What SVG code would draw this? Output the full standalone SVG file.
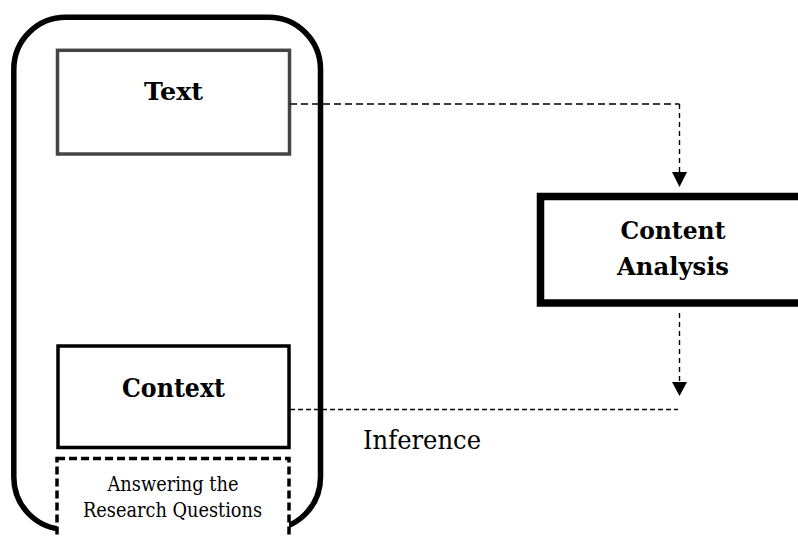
<svg xmlns="http://www.w3.org/2000/svg" width="798" height="538" viewBox="0 0 798 538">
  <style>
    .lbl { font-family: "DejaVu Serif", "Liberation Serif", serif; fill: #000; text-anchor: middle; }
    .bold { font-weight: bold; }
    .flow { fill: none; stroke: #000; stroke-width: 1.4; }
    .head { fill: #000; stroke: none; }
  </style>
  <rect width="798" height="538" fill="#fff"/>

  <!-- rounded frame holding text, context and answers -->
  <g id="frame">
    <rect x="13.8" y="17.3" width="306.7" height="512" rx="52" ry="52" fill="none" stroke="#000" stroke-width="5.5"/>
  </g>

  <g id="text-node">
    <rect x="57.5" y="50.3" width="232" height="103.7" fill="#fff" stroke="#444" stroke-width="3.5"/>
    <text class="lbl bold" x="173.5" y="100" font-size="25" textLength="59" lengthAdjust="spacingAndGlyphs">Text</text>
  </g>

  <g id="context-node">
    <rect x="58" y="346" width="231" height="101.5" fill="#fff" stroke="#000" stroke-width="3.5"/>
    <text class="lbl bold" x="173.5" y="397" font-size="26" textLength="103" lengthAdjust="spacingAndGlyphs">Context</text>
  </g>

  <g id="answers-node">
    <rect x="57" y="458.5" width="232" height="100" fill="#fff" stroke="#000" stroke-width="3.5" stroke-dasharray="8 4"/>
    <text class="lbl" x="173" y="491" font-size="20" textLength="131" lengthAdjust="spacingAndGlyphs">Answering the</text>
    <text class="lbl" x="172.5" y="517" font-size="20" textLength="179" lengthAdjust="spacingAndGlyphs">Research Questions</text>
  </g>

  <g id="analysis-node">
    <rect x="540.5" y="196.5" width="300" height="106.5" fill="#fff" stroke="#000" stroke-width="7.5"/>
    <text class="lbl bold" x="673" y="239" font-size="24" textLength="105" lengthAdjust="spacingAndGlyphs">Content</text>
    <text class="lbl bold" x="673" y="275" font-size="24" textLength="112" lengthAdjust="spacingAndGlyphs">Analysis</text>
  </g>

  <g id="connectors">
    <!-- text to content analysis -->
    <path class="flow" d="M290 104 H679.5" stroke-dasharray="7 4"/>
    <path class="flow" d="M679.5 104 V172" stroke-dasharray="5 4"/>
    <polygon class="head" points="672,172 687,172 679.5,187"/>
    <!-- content analysis down to inference -->
    <path class="flow" d="M679.5 313 V382" stroke-dasharray="5 4"/>
    <polygon class="head" points="672,382 687,382 679.5,396"/>
    <!-- inference line back to context -->
    <path class="flow" d="M290 409.5 H678" stroke-width="1.1" stroke-dasharray="5 3"/>
  </g>

  <g id="inference-label">
    <text class="lbl" x="422" y="449" font-size="26.5" textLength="118" lengthAdjust="spacingAndGlyphs">Inference</text>
  </g>
</svg>
